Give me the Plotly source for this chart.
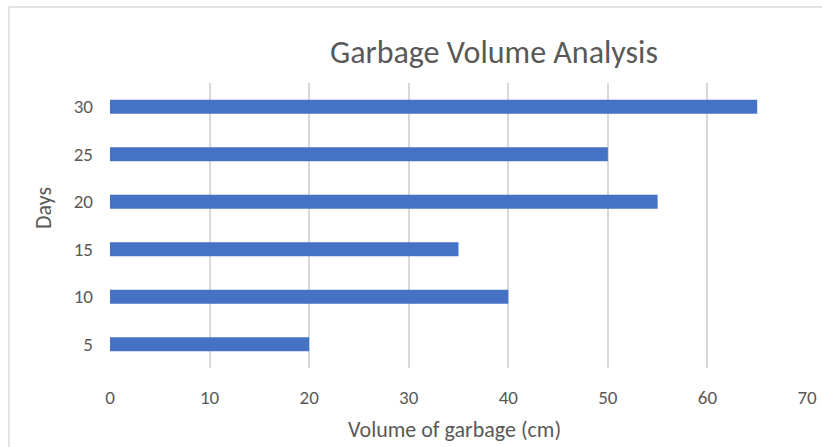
import plotly.graph_objects as go

days = ["5", "10", "15", "20", "25", "30"]
volume = [20, 40, 35, 55, 50, 65]
x_ticks = [0, 10, 20, 30, 40, 50, 60, 70]

FONT = "Carlito, Lato, 'Open Sans', sans-serif"
GRAY = "#595959"

L, R, T, B = 110, 15, 83, 79
W, H = 822, 447
pw, ph = W - L - R, H - T - B

def px_to_paper_x(px):
    return (px - L) / pw

def px_to_paper_y(py):
    return (H - B - py) / ph

fig = go.Figure(go.Bar(
    x=volume, y=days, orientation="h",
    marker=dict(color="#4472C4", line=dict(width=0)),
    width=0.295,
))

fig.update_layout(
    width=W, height=H, autosize=False,
    margin=dict(l=L, r=R, t=T, b=B, autoexpand=False),
    paper_bgcolor="white", plot_bgcolor="white",
    showlegend=False,
    font=dict(family=FONT, color=GRAY, size=19),
    xaxis=dict(
        range=[0, 70], tickvals=x_ticks, ticktext=[str(v) for v in x_ticks],
        showgrid=True, gridcolor="#D9D9D9", gridwidth=1.5,
        zeroline=False, showline=False, ticks="", automargin=False,
        tickfont=dict(size=19, color=GRAY), ticklabelstandoff=16,
    ),
    yaxis=dict(
        type="category", categoryorder="array", categoryarray=days,
        showgrid=False, zeroline=False, showline=False, ticks="", automargin=False,
        tickfont=dict(size=19, color=GRAY), ticklabelstandoff=16,
    ),
    annotations=[
        dict(text="Garbage Volume Analysis", xref="paper", yref="paper",
             x=px_to_paper_x(494), y=px_to_paper_y(53), xanchor="center", yanchor="middle",
             showarrow=False, font=dict(size=32, color=GRAY, family=FONT)),
        dict(text="Volume of garbage (cm)", xref="paper", yref="paper",
             x=px_to_paper_x(454), y=px_to_paper_y(429), xanchor="center", yanchor="middle",
             showarrow=False, font=dict(size=22, color=GRAY, family=FONT)),
        dict(text="Days", xref="paper", yref="paper", textangle=-90,
             x=px_to_paper_x(43), y=px_to_paper_y(208), xanchor="center", yanchor="middle",
             showarrow=False, font=dict(size=22, color=GRAY, family=FONT)),
    ],
    shapes=[
        dict(type="line", xref="paper", yref="paper",
             x0=px_to_paper_x(9), x1=px_to_paper_x(822),
             y0=px_to_paper_y(7), y1=px_to_paper_y(7),
             line=dict(color="#D9D9D9", width=1.5), layer="below"),
        dict(type="line", xref="paper", yref="paper",
             x0=px_to_paper_x(9), x1=px_to_paper_x(9),
             y0=px_to_paper_y(7), y1=px_to_paper_y(447),
             line=dict(color="#D9D9D9", width=1.5), layer="below"),
    ],
)

fig.write_html("out.html")
